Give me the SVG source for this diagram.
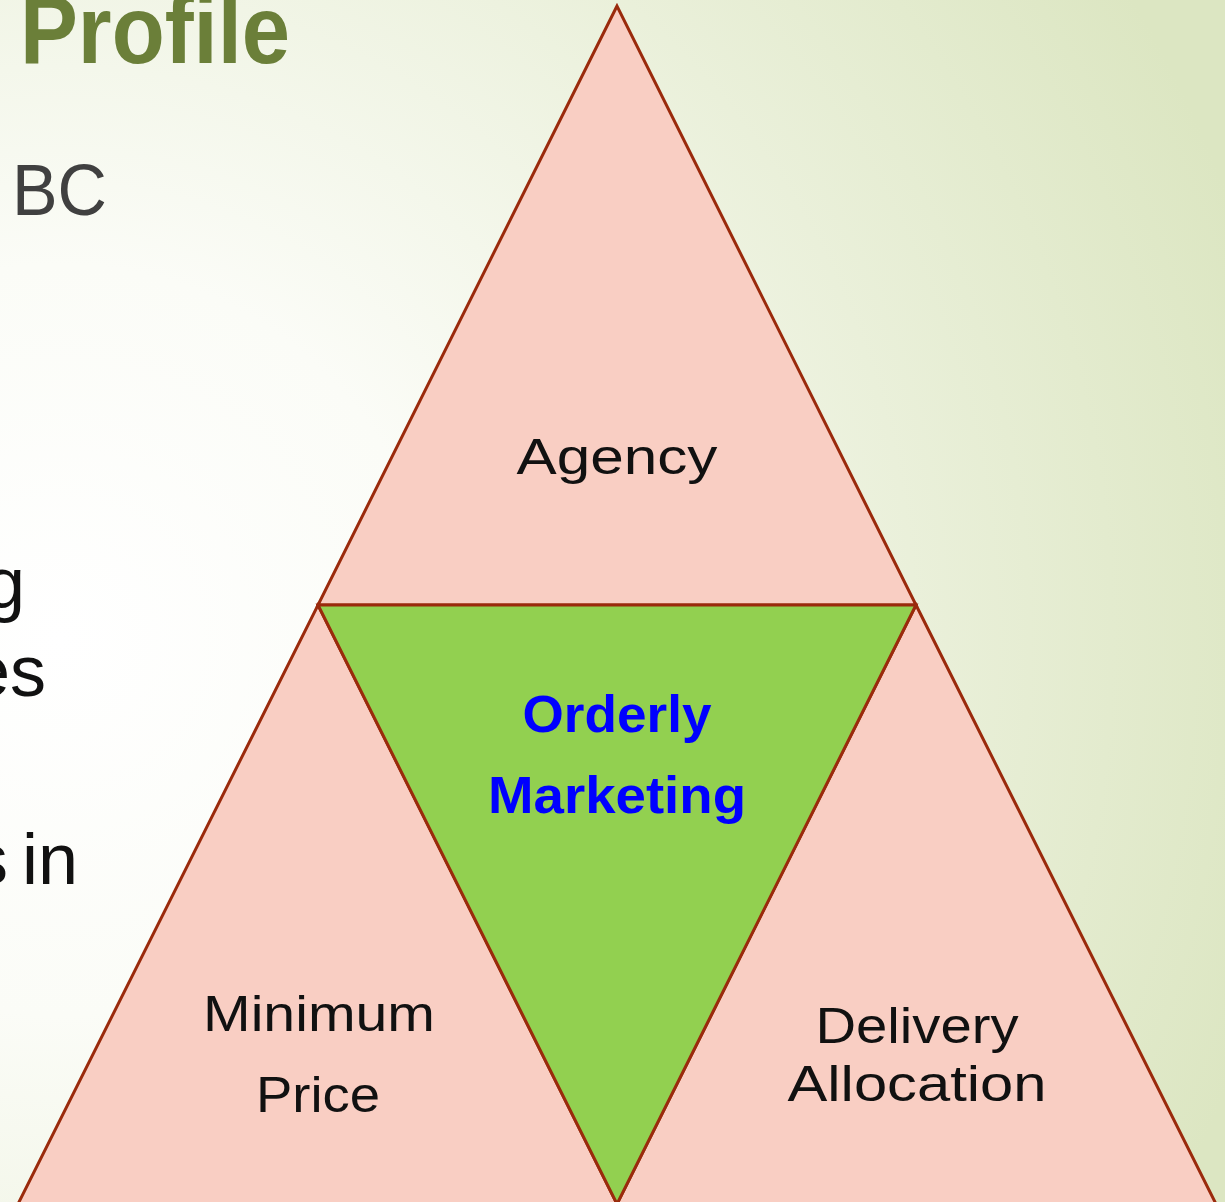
<svg xmlns="http://www.w3.org/2000/svg" width="1225" height="1202" viewBox="0 0 1225 1202">
<defs>
<radialGradient id="bg" cx="60" cy="640" r="1250" gradientUnits="userSpaceOnUse">
<stop offset="0" stop-color="#ffffff"/>
<stop offset="0.3" stop-color="#fbfcf7"/>
<stop offset="1" stop-color="#dce6c2"/>
</radialGradient>
<style>
.tri{fill:#f9cec3;stroke:#9a2a0c;stroke-width:3;stroke-linejoin:miter}
.mid{fill:#92d050;stroke:#9a2a0c;stroke-width:3}
.lbl{font-family:"Liberation Sans","DejaVu Sans",sans-serif;font-size:50px;fill:#111;text-anchor:middle}
.blue{font-family:"Liberation Sans","DejaVu Sans",sans-serif;font-size:52px;font-weight:bold;fill:#0000ff;text-anchor:middle}
.body{font-family:"Liberation Sans","DejaVu Sans",sans-serif;font-size:72px;fill:#111;text-anchor:end}
</style>
</defs>
<rect width="1225" height="1202" fill="url(#bg)"/>
<g id="background-text">
<text x="20" y="63" font-family="Liberation Sans, DejaVu Sans, sans-serif" font-size="96" font-weight="bold" fill="#6b7f39" textLength="270" lengthAdjust="spacingAndGlyphs">Profile</text>
<text x="12" y="215" font-family="Liberation Sans, DejaVu Sans, sans-serif" font-size="72" fill="#404040" textLength="95" lengthAdjust="spacingAndGlyphs">BC</text>
<text class="body" x="25" y="608">g</text>
<text class="body" x="46" y="696">es</text>
<text class="body" x="78" y="884" word-spacing="-6">s in</text>
</g>
<g id="node-agency">
<polygon class="tri" points="617,6 318,605 916,605"/>
<text class="lbl" x="617" y="474" textLength="201" lengthAdjust="spacingAndGlyphs">Agency</text>
</g>
<g id="node-minimum-price">
<polygon class="tri" points="318,605 617,1204 18,1204"/>
<text class="lbl" x="319" y="1031" textLength="232" lengthAdjust="spacingAndGlyphs">Minimum</text>
<text class="lbl" x="318" y="1112" textLength="124" lengthAdjust="spacingAndGlyphs">Price</text>
</g>
<g id="node-delivery-allocation">
<polygon class="tri" points="916,605 1216,1204 617,1204"/>
<text class="lbl" x="917" y="1043" textLength="203" lengthAdjust="spacingAndGlyphs">Delivery</text>
<text class="lbl" x="917" y="1101" textLength="259" lengthAdjust="spacingAndGlyphs">Allocation</text>
</g>
<g id="node-orderly-marketing">
<polygon class="mid" points="318,605 916,605 617,1204"/>
<text class="blue" x="617" y="732" textLength="189" lengthAdjust="spacingAndGlyphs">Orderly</text>
<text class="blue" x="617" y="813" textLength="258" lengthAdjust="spacingAndGlyphs">Marketing</text>
</g>
<g id="connectors"/>
</svg>
